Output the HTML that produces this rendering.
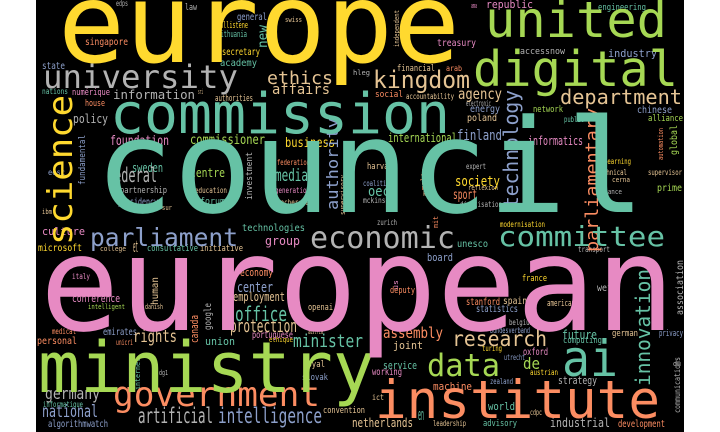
<!DOCTYPE html>
<html><head><meta charset="utf-8"><style>
html,body{margin:0;padding:0;background:#fff;}
svg{display:block;}
text{font-family:"DejaVu Sans Mono","Liberation Mono",monospace;}
</style></head><body>
<svg id="cloud" width="720" height="432" viewBox="0 0 720 432">
<rect x="36" y="0" width="648" height="432" fill="#000"/>
<g id="words"></g>
</svg>
<script>
// word list and frequency weights (rendered font size)
const words = ["europe","council","european","commission","united","digital","ministry","institute","university","science","government","kingdom","economic","committee","parliament","ai","data","department","technology","parliamentary","research","innovation","artificial","intelligence","ethics","federal","office","authority","protection","minister","media","rights","national","germany","assembly","affairs","agency","society","center","information","finland","international","informatics","business","commissioner","foundation","policy","centre","sweden","oecd","sport","future","employment","economy","conference","group","culture","union","joint","de","service","strategy","world","industrial","development","machine","working","portuguese","stanford","spain","statistics","board","unesco","technologies","consultative","initiative","microsoft","personal","emirates","openai","industry","engineering","republic","treasury","accessnow","energy","poland","network","chinese","alliance","harvard","prime","presidency","forum","partnership","academy","secretary","general","singapore","state","house","numérique","social","financial","arab","new","fundamental","investment","global","association","communications","human","google","canada","slovak","royal","convention","netherlands","algorithmwatch","informatique","france","deputy","wef","american","german","privacy","computing","oxford","advisory","leadership","modernisation","transport","zurich","edps","law","swiss","allistene","lithuania","authorities","nations","eesc","generation","federation","education","recherche","digitisation","learning","supervisor","technical","expert","coalition","mckinsey","accountability","electronic","public","belgium","bundesverband","turing","utrecht","zealand","austrian","cdpc","ict","italy","medical","intelligent","danish","unicri","éthique","austria","dg1","college","independent","mit","us","malta","automation","internet","supervisory","ibm","sur","hleg","cerna","finance","reflexion","ama","du","sri","ki","et","en"];
const weights = [111,130,132,56,50,49,70,53,32,34,34,24,30,28,25,50,31,20,20,18,21,20,21,21,18,20,20,16,18,18,17,17,17,16,15,14,15,14,14,12,14,12,12,13,13,13,12,12,12,14,13,12,12,11,11,12,11,11,11,16,11,11,11,12,10,11,10,10,10,10,10,11,10,10,9,9,10,10,10,9,11,9,11,10,9,10,10,9,10,9,9,10,10,9,9,10,10,10,10,10,9,9,9,9,8,13,9,9,10,10,8,10,10,11,9,9,9,12,10,8,9,9,10,9,9,9,9,10,9,8,8,8,8,8,9,7,9,9,9,8,8,8,8,8,8,8,8,8,8,8,8,8,8,8,8,8,8,8,8,8,8,8,8,8,8,7,7,8,7,7,7,7,7,7,7,7,7,7,7,7,7,7,7,7,7,7,7,7,7];
// colour index per word (Set2 palette)
const colorIdx = [5,0,3,0,4,4,4,1,7,5,1,6,7,0,2,0,4,6,2,1,6,0,7,2,6,7,0,2,6,0,0,6,2,7,1,6,6,5,2,7,2,4,3,5,4,3,7,4,0,0,1,0,6,1,3,3,3,0,6,4,0,7,0,7,1,1,3,3,1,6,2,2,0,0,0,6,5,1,2,6,2,0,3,3,7,2,6,4,2,4,6,4,2,0,7,0,5,2,1,2,1,3,1,6,1,0,2,7,4,7,7,6,7,1,2,6,6,6,2,0,5,1,7,6,6,2,0,3,0,6,5,7,7,7,7,6,5,0,6,0,2,3,1,6,6,7,5,6,6,7,2,7,6,7,0,7,2,5,2,2,5,6,6,3,1,4,6,1,5,6,7,6,6,1,3,1,1,0,6,6,6,7,6,7,6,3,7,6,6,6];
const palette = ["#66c2a5","#fc8d62","#8da0cb","#e78ac3","#a6d854","#ffd92f","#e5c494","#b3b3b3"];
</script>
<script>
// layout (not data): [x, y, length, vertical]
const layout = [
[58,62,402,0],[95,212,550,0],[40,330,635,0],[110,133,340,0],[485,37,182,0],[473,86,205,0],[38,392,337,0],[375,418,285,0],
[43,88,195,0],[72,245,150,1],[113,406,207,0],[373,88,97,0],[310,248,145,0],[498,246,167,0],[90,246,148,0],[562,376,56,0],
[427,376,73,0],[560,104,122,0],[518,208,118,1],[598,252,144,1],[452,346,95,0],[650,386,117,1],[138,423,75,0],[218,423,104,0],
[267,84,66,0],[107,182,50,0],[235,321,52,0],[338,210,92,1],[230,332,67,0],[293,347,70,0],[275,181,33,0],[133,342,44,0],
[42,417,56,0],[45,399,55,0],[383,338,60,0],[272,94,58,0],[458,99,44,0],[455,186,45,0],[237,292,36,0],[113,99,82,0],
[457,140,45,0],[388,142,69,0],[528,145,55,0],[285,147,50,0],[190,144,75,0],[110,145,59,0],[73,123,35,0],[190,177,35,0],
[132,172,31,0],[368,196,29,0],[453,199,24,0],[562,339,35,0],[233,301,52,0],[240,276,33,0],[72,302,48,0],[265,245,35,0],
[42,235,43,0],[205,345,30,0],[393,349,30,0],[523,369,17,0],[383,369,34,0],[558,384,39,0],[488,410,27,0],[550,427,60,0],
[618,427,47,0],[433,390,39,0],[372,375,30,0],[252,338,41,0],[466,305,34,0],[503,304,24,0],[476,312,42,0],[427,261,26,0],
[457,247,31,0],[242,231,63,0],[147,251,51,0],[200,251,43,0],[38,251,44,0],[37,344,40,0],[103,335,34,0],[308,310,25,0],
[608,57,49,0],[598,10,48,0],[486,8,47,0],[437,46,39,0],[520,54,45,0],[470,112,30,0],[467,121,30,0],[533,112,30,0],
[637,113,35,0],[648,121,35,0],[367,169,30,0],[657,191,25,0],[118,205,40,0],[200,204,25,0],[120,193,47,0],[220,66,37,0],
[222,55,38,0],[237,20,30,0],[85,45,43,0],[42,69,23,0],[85,106,20,0],[72,95,38,0],[375,97,28,0],[397,71,38,0],
[446,71,16,0],[267,48,23,1],[85,185,50,1],[252,200,48,1],[677,155,30,1],[683,315,55,1],[680,413,56,1],[158,305,28,1],
[211,330,27,1],[198,343,28,1],[302,380,26,0],[303,367,22,0],[323,413,42,0],[352,427,61,0],[48,427,60,0],[43,407,40,0],
[522,281,25,0],[390,293,25,0],[597,291,15,0],[547,306,28,0],[612,336,26,0],[659,336,24,0],[563,343,39,0],[523,355,25,0],
[483,426,34,0],[433,426,33,0],[500,227,45,0],[578,252,32,0],[377,225,20,0],[116,6,12,0],[185,10,12,0],[285,22,17,0],
[220,28,28,0],[217,37,30,0],[215,101,38,0],[42,94,26,0],[48,175,17,0],[275,193,35,0],[277,165,33,0],[195,193,32,0],
[277,205,32,0],[460,207,42,0],[604,164,27,0],[648,175,34,0],[596,175,31,0],[466,169,20,0],[363,186,30,0],[363,203,30,0],
[406,99,48,0],[466,106,25,0],[564,122,20,0],[509,325,24,0],[490,333,40,0],[482,351,20,0],[504,360,21,0],[490,384,23,0],
[530,375,28,0],[530,415,12,0],[372,400,12,0],[72,279,18,0],[52,334,24,0],[88,309,37,0],[145,309,18,0],[116,345,17,0],
[269,342,24,0],[308,334,15,0],[159,375,9,0],[100,251,26,0],[399,47,37,1],[438,228,12,1],[398,290,10,1],[426,190,22,1],
[663,160,32,1],[140,390,32,1],[345,215,40,1],[42,214,10,0],[162,210,10,0],[353,75,17,0],[612,182,18,0],[597,194,25,0],
[468,190,30,0],[471,8,6,0],[673,366,8,0],[198,94,5,0],[423,196,5,0],[133,252,5,0],[418,420,6,0]
];
const g = document.getElementById('words');
const NS = 'http://www.w3.org/2000/svg';
const order = words.map((w, i) => i).sort((a, b) => weights[a] - weights[b]);
for (const i of order) {
  const L = layout[i]; if (!L) continue;
  const t = document.createElementNS(NS, 'text');
  
  
  t.setAttribute('font-size', weights[i]);
  t.setAttribute('fill', palette[colorIdx[i] || 0]);
  t.setAttribute('textLength', L[2]);
  t.setAttribute('lengthAdjust', 'spacingAndGlyphs');
  if (L[3]) {
    t.setAttribute('x', 0); t.setAttribute('y', 0);
    t.setAttribute('transform', 'translate(' + L[0] + ',' + L[1] + ') rotate(-90)');
  } else {
    t.setAttribute('x', L[0]); t.setAttribute('y', L[1]);
  }
  t.textContent = words[i];
  g.appendChild(t);
}
</script>
</body></html>
